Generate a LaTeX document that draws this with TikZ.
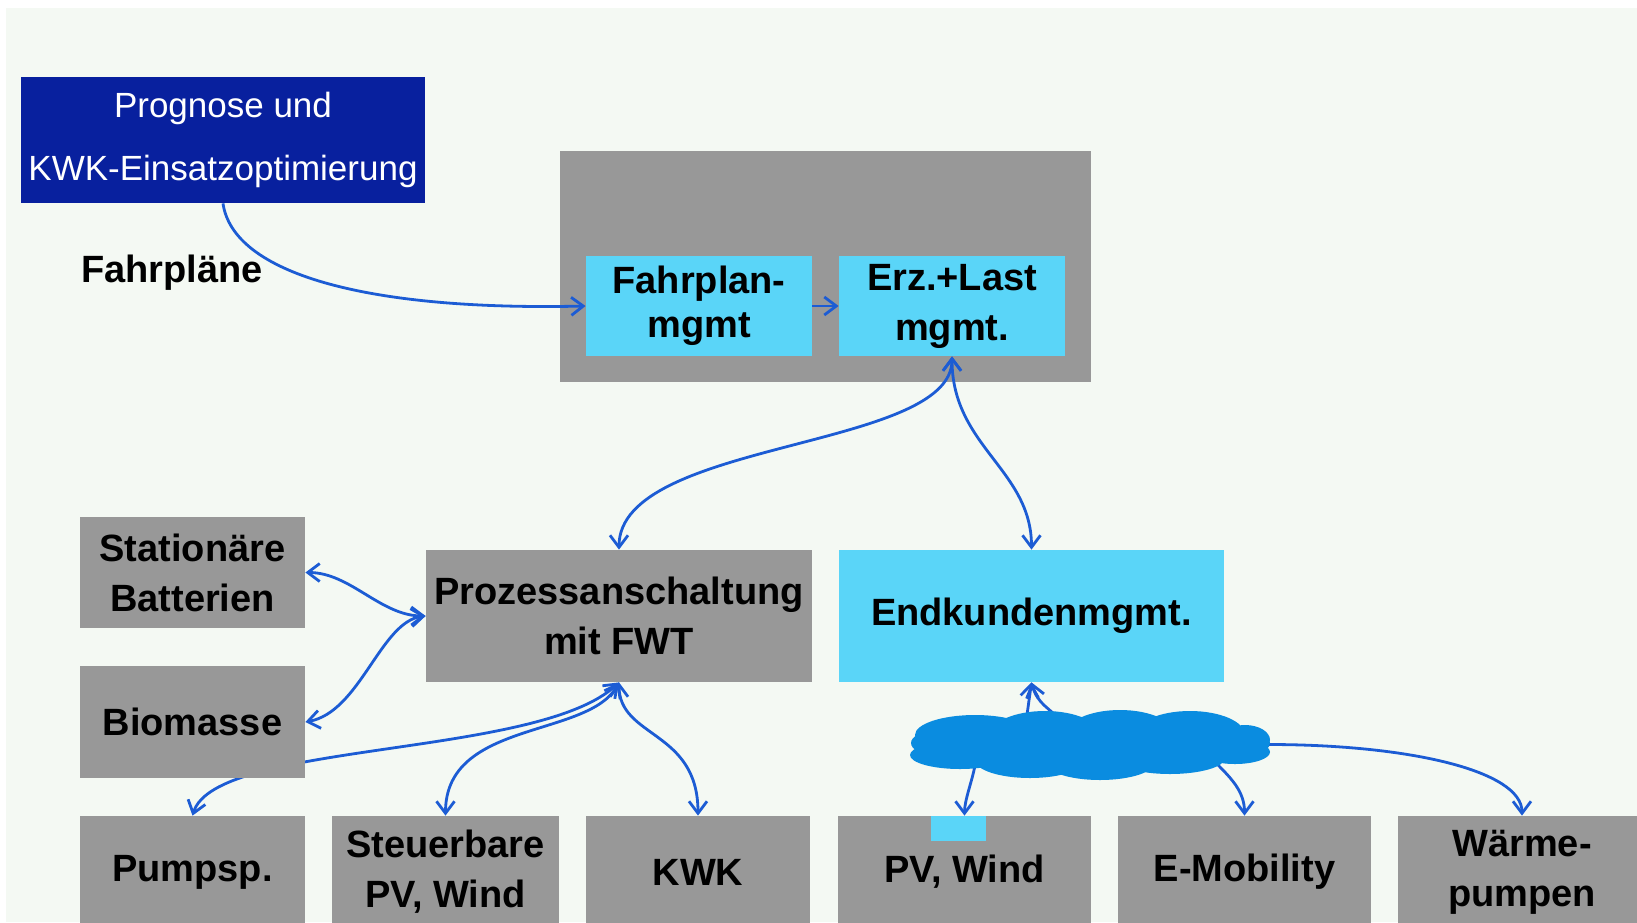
\documentclass[tikz,border=0pt]{standalone}
\usepackage{fontspec}
\setmainfont{Liberation Sans}
\usetikzlibrary{arrows.meta}

\definecolor{pagebg}{RGB}{244,249,243}
\definecolor{boxgray}{RGB}{152,152,152}
\definecolor{mgmtcyan}{RGB}{90,213,248}
\definecolor{progblue}{RGB}{8,32,158}
\definecolor{linkblue}{RGB}{28,92,212}
\definecolor{cloudblue}{RGB}{10,140,224}

\pgfdeclarelayer{backdrop}
\pgfdeclarelayer{behind}
\pgfsetlayers{backdrop,behind,main}

\tikzset{
  unit/.style={fill=boxgray, inner sep=0pt, align=center, font=\bfseries\fontsize{19}{25}\selectfont},
  mgmt/.style={unit, fill=mgmtcyan},
  link/.style={draw=linkblue, line width=1.4pt, >={Straight Barb[length=6pt,width=9pt]}},
}

\begin{document}
\begin{tikzpicture}[x=0.5pt, y=-0.5pt]

\useasboundingbox (0,0) rectangle (1637,922);
\clip (0,0) rectangle (1637,922);

% the page
\begin{pgfonlayer}{backdrop}
\fill[white] (0,0) rectangle (1637,922);
\fill[pagebg] (6,8) rectangle (1637,922);
\end{pgfonlayer}

% forecast
\node[fill=progblue, text=white, minimum width=202pt, minimum height=63pt, inner sep=0pt, align=center, font=\fontsize{17.5}{31.5}\selectfont] (prog) at (223,140) {Prognose und\\KWK-Einsatzoptimierung};
\node[font=\bfseries\fontsize{19}{25}\selectfont] (fpl) at (172,273) {Fahrpläne};

% control centre
\node[unit, minimum width=265.5pt, minimum height=115.5pt] (ctrl) at (825.5,266.5) {};
\node[mgmt, minimum width=113pt, minimum height=50pt, font=\bfseries\fontsize{19}{22}\selectfont] (fpm) at (699,306) {Fahrplan-\\mgmt};
\node[mgmt, minimum width=113pt, minimum height=50pt] (elm) at (952,306) {Erz.+Last\\mgmt.};

% middle row
\node[unit, minimum width=112.5pt, minimum height=55.5pt] (batt) at (192.5,572.5) {Stationäre\\Batterien};
\node[unit, minimum width=112.5pt, minimum height=56pt] (bio) at (192.5,722) {Biomasse};
\node[unit, minimum width=193pt, minimum height=66pt] (proz) at (619,616) {Prozessanschaltung\\mit FWT};
\node[mgmt, minimum width=192.5pt, minimum height=66pt] (endk) at (1031.5,616) {Endkundenmgmt.};

% bottom row
\node[unit, minimum width=112.5pt, minimum height=56pt] (pump) at (192.5,872) {Pumpsp.};
\node[unit, minimum width=113.5pt, minimum height=56pt] (steu) at (445.5,872) {Steuerbare\\PV, Wind};
\node[unit, minimum width=112pt, minimum height=56pt] (kwk) at (698,872) {KWK};
\node[unit, minimum width=126.5pt, minimum height=56pt] (pvw) at (964.5,872) {PV, Wind};
\node[unit, minimum width=126.5pt, minimum height=56pt] (emob) at (1244.5,872) {E-Mobility};
\node[unit, minimum width=124pt, minimum height=56pt] (wpump) at (1522,872) {Wärme-\\pumpen};
\node[mgmt, minimum width=27.5pt, minimum height=12.5pt] (pvtag) at (958.5,828.5) {};

% the network (outline only, filled at the end)
\node[minimum width=178.5pt, minimum height=34.5pt, inner sep=0pt] (net) at (1089.5,744.5) {};

% links
\draw[link, ->] (prog.south) .. controls +(10,70) and +(-220,5) .. (fpm.west);
\draw[link, ->] (fpm.east) -- (elm.west);
\draw[link, <->] (elm.south) .. controls +(0,94) and +(0,-110) .. (proz.north);
\draw[link, <->] (elm.south) .. controls +(0,90) and +(0,-80) .. (endk.north);
\draw[link, <->] (batt.east) .. controls +(45,0) and +(-45,0) .. (proz.west);
\draw[link, <->] (bio.east) .. controls +(55,-10) and +(-45,5) .. (proz.west);
\begin{pgfonlayer}{behind}
\draw[link, <->] (proz.south) .. controls +(-80,76) and +(23,-75) .. (pump.north);
\end{pgfonlayer}
\draw[link, <->] (proz.south) .. controls +(-30,56) and +(0,-96) .. (steu.north);
\draw[link, <->] (proz.south) .. controls +(0,56) and +(0,-86) .. (kwk.north);

% from the network
\draw[link, ->] ([xshift=-32pt,yshift=-8pt]net.north) -- (endk.south);
\draw[link, ->] ([xshift=-14pt,yshift=-6pt]net.north) .. controls +(-12,-14) and +(6,22) .. (endk.south);
\draw[link, ->] ([xshift=32pt,yshift=6pt]net.south west) .. controls +(-3,15) and +(0,-15) .. (pvw.north);
\draw[link, ->] ([xshift=-28pt,yshift=10pt]net.south east) .. controls +(18,18) and +(0,-25) .. (emob.north);
\draw[link, ->] (net.east) .. controls +(140,0) and +(0,-45) .. (wpump.north);

% cloud
\fill[cloudblue] (1091,745) ellipse (170 and 26)
  (975,735) ellipse (60 and 20)
  (1045,735) ellipse (55 and 24)
  (1120,735) ellipse (55 and 25)
  (1190,735) ellipse (55 and 24)
  (1245,740) ellipse (25 and 15)
  (960,755) ellipse (50 and 14)
  (1030,760) ellipse (55 and 18)
  (1100,762) ellipse (55 and 18)
  (1170,758) ellipse (55 and 16)
  (1235,752) ellipse (35 and 12)
  (935,743) ellipse (24 and 12)
  (1255,743) ellipse (15 and 10);

\end{tikzpicture}
\end{document}
